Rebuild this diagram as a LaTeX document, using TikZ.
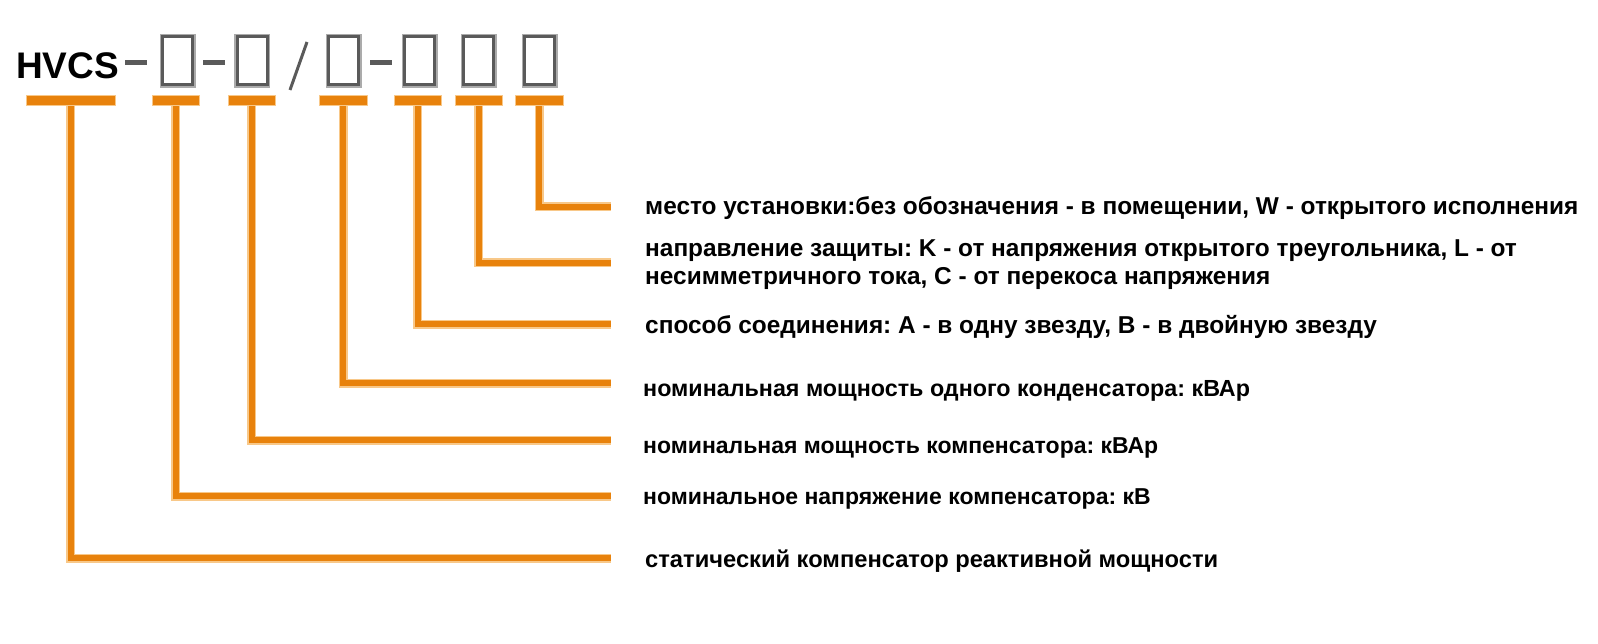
\documentclass[tikz,border=0pt]{standalone}
\usepackage{fontspec}
\setmainfont{Liberation Sans}
\frenchspacing
\definecolor{orng}{HTML}{E8820C}
\definecolor{orngl}{HTML}{F8C889}
\definecolor{boxdark}{HTML}{5A5A5A}
\definecolor{boxlight}{HTML}{ABABAB}
\tikzset{
  lbl/.style={anchor=west, inner sep=0pt, font=\fontsize{24.4}{28}\selectfont\bfseries, align=left},
  lblb/.style={lbl, font=\fontsize{23.3}{28}\selectfont\bfseries},
  lbld/.style={lbl, font=\fontsize{23}{28}\selectfont\bfseries},
  lblc/.style={lbl, font=\fontsize{23.7}{28}\selectfont\bfseries},
  codebox/.style={minimum width=33pt, minimum height=51pt, inner sep=0pt, draw=boxlight, line width=3pt},
  innerbox/.style={draw=boxdark, line width=3pt},
  bar/.style={fill=orng, minimum height=10pt, inner sep=0pt, draw=orngl, line width=1pt},
  lead/.style={draw=orng, line width=6pt, preaction={draw=orngl, line width=9pt}},
  sep/.style={draw=boxdark, line width=5pt}
}
\begin{document}
\begin{tikzpicture}[x=1pt,y=-1pt]
\useasboundingbox (0,0) rectangle (1598,644);
\node[anchor=base west, inner sep=0pt, font=\fontsize{37}{40}\selectfont\bfseries] (hvcs) at (16,79) {HVCS};
% code boxes
\node[codebox] (c1) at (177.5,61) {};
\node[codebox] (c2) at (252,61) {};
\node[codebox] (c3) at (343.5,61) {};
\node[codebox] (c4) at (419.5,61) {};
\node[codebox] (c5) at (478.5,61) {};
\node[codebox] (c6) at (539.5,61) {};
\foreach \i in {1,...,6} {
  \draw[innerbox] ([shift={(3,3)}]c\i.north west) rectangle ([shift={(-3,-3)}]c\i.south east);
}
\draw[sep] (125,63) -- (147,63);
\draw[sep] (203,63) -- (225,63);
\draw[sep] (370,63) -- (392,63);
\draw[draw=boxdark, line width=3pt] (290,90) -- (307,42);
% bars
\node[bar, minimum width=89pt] (b1) at (70.5,101) {};
\node[bar, minimum width=47pt] (b2) at (175.5,101) {};
\node[bar, minimum width=47pt] (b3) at (251.5,101) {};
\node[bar, minimum width=48pt] (b4) at (343,101) {};
\node[bar, minimum width=47pt] (b5) at (417.5,101) {};
\node[bar, minimum width=47pt] (b6) at (478.5,101) {};
\node[bar, minimum width=48pt] (b7) at (539,101) {};
% labels
\node[lbl] (t7) at (645,208) {место установки:без обозначения - в помещении, W - открытого исполнения};
\node[lbl] (t6) at (645,265) {направление защиты: K - от напряжения открытого треугольника, L - от\\несимметричного тока, C - от перекоса напряжения};
\node[lbl] (t5) at (645,327) {способ соединения: A - в одну звезду, B - в двойную звезду};
\node[lblb] (t4) at (643,391) {номинальная мощность одного конденсатора: кВАр};
\node[lbld] (t3) at (643,448) {номинальная мощность компенсатора: кВАр};
\node[lbld] (t2) at (643,499) {номинальное напряжение компенсатора: кВ};
\node[lblc] (t1) at (645,561) {статический компенсатор реактивной мощности};
% free ends
\coordinate (e7) at (611,207);
\coordinate (e6) at (611,263);
\coordinate (e5) at (611,324);
\coordinate (e4) at (611,383);
\coordinate (e3) at (611,440);
\coordinate (e2) at (611,496);
\coordinate (e1) at (611,558);
\foreach \i in {1,...,7} {
  \draw[lead] (b\i.south) |- (e\i);
}
\end{tikzpicture}
\end{document}
